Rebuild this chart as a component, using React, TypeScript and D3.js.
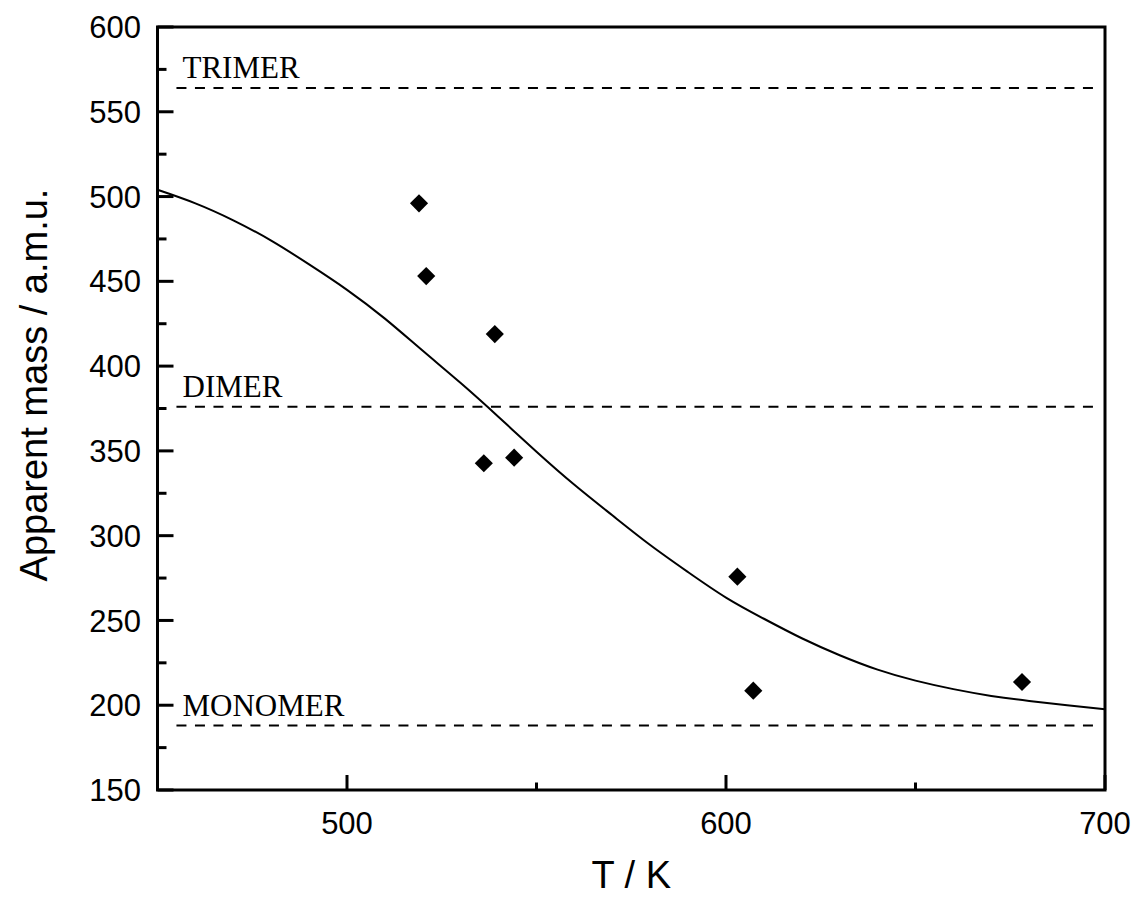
import React from "react";
import * as d3 from "d3";

const pointT = [519.0, 520.9, 539.0, 536.1, 544.1, 603.0, 607.2, 678.1];
const pointM = [496.0, 453.1, 418.9, 342.7, 346.0, 275.8, 208.6, 213.7];

const curveT = [450, 460, 470, 480, 490, 500, 510, 520, 530, 540, 550, 560, 570, 580, 590, 600, 610, 620, 630, 640, 650, 660, 670, 680, 690, 700];
const curveM = [504, 496, 486, 474, 460, 445, 428, 409, 390, 370, 349.5, 330, 312, 294.5, 278.5, 263.5, 251, 239.5, 229.5, 221, 214.5, 209.5, 205.5, 202.5, 200, 197.6];

const refNames = ["TRIMER", "DIMER", "MONOMER"];
const refValues = [564, 376, 188];

const xMajorTicks = [500, 600, 700];
const xMinorTicks = [550, 650];
const yMajorTicks = [150, 200, 250, 300, 350, 400, 450, 500, 550, 600];
const yMinorTicks = [175, 225, 275, 325, 375, 425, 475, 525, 575];

export default function App() {
  const W = 1137, H = 897;
  const left = 157.5, right = 1105, top = 27, bottom = 790;
  const x = d3.scaleLinear().domain([450, 700]).range([left, right]);
  const y = d3.scaleLinear().domain([150, 600]).range([bottom, top]);

  const line = d3
    .line<number>()
    .x((_, i) => x(curveT[i]))
    .y((d) => y(d))
    .curve(d3.curveNatural);

  const diamond = d3.symbol().type(d3.symbolSquare).size(165)();

  const sans = "'Liberation Sans', Arial, sans-serif";
  const serif = "'Liberation Serif', 'Times New Roman', serif";

  return (
    <svg width={W} height={H} style={{ position: "absolute", left: 0, top: 0, background: "#fff" }}>
      {refValues.map((v, i) => (
        <g key={refNames[i]}>
          <line x1={x(455)} x2={x(698)} y1={y(v)} y2={y(v)} stroke="#000" strokeWidth={2} strokeDasharray="10,8.5" />
          <text x={x(456.6)} y={y(v) - 10} fontFamily={serif} fontSize={31} fill="#000">
            {refNames[i]}
          </text>
        </g>
      ))}
      <path d={line(curveM) || ""} fill="none" stroke="#000" strokeWidth={2} />
      {pointT.map((t, i) => (
        <path key={i} d={diamond || ""} transform={`translate(${x(t)},${y(pointM[i])}) rotate(45)`} fill="#000" />
      ))}
      <rect x={left} y={top} width={right - left} height={bottom - top} fill="none" stroke="#000" strokeWidth={3} />
      {yMajorTicks.map((v) => (
        <g key={"ym" + v}>
          <line x1={left} x2={left + 16} y1={y(v)} y2={y(v)} stroke="#000" strokeWidth={3} />
          <text x={141} y={y(v)} dy="0.36em" textAnchor="end" fontFamily={sans} fontSize={31} fill="#000">
            {v}
          </text>
        </g>
      ))}
      {yMinorTicks.map((v) => (
        <line key={"yn" + v} x1={left} x2={left + 9} y1={y(v)} y2={y(v)} stroke="#000" strokeWidth={3} />
      ))}
      {xMajorTicks.map((v) => (
        <g key={"xm" + v}>
          <line x1={x(v)} x2={x(v)} y1={bottom} y2={bottom - 15} stroke="#000" strokeWidth={3} />
          <text x={x(v)} y={834} textAnchor="middle" fontFamily={sans} fontSize={31} fill="#000">
            {v}
          </text>
        </g>
      ))}
      {xMinorTicks.map((v) => (
        <line key={"xn" + v} x1={x(v)} x2={x(v)} y1={bottom} y2={bottom - 7.5} stroke="#000" strokeWidth={3} />
      ))}
      <text x={(left + right) / 2} y={888} textAnchor="middle" fontFamily={sans} fontSize={38} fill="#000">
        T / K
      </text>
      <text transform={`translate(47,385) rotate(-90)`} textAnchor="middle" fontFamily={sans} fontSize={38} fill="#000">
        Apparent mass / a.m.u.
      </text>
    </svg>
  );
}
